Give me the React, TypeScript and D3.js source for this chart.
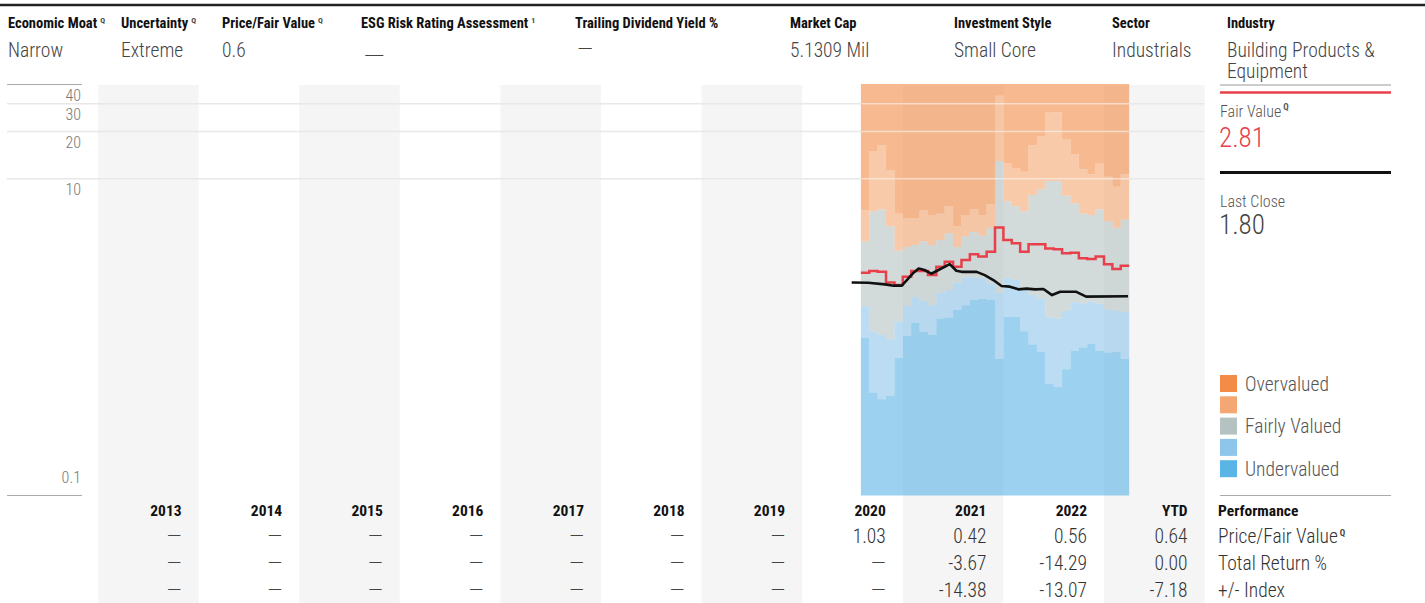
import React from 'react';
import * as d3 from 'd3';

const FONT = '"Roboto Condensed", "Liberation Sans Narrow", "DejaVu Sans Condensed", "Arial Narrow", Roboto, sans-serif';

// ---- header ----
const headerLabels = ['Economic Moat', 'Uncertainty', 'Price/Fair Value', 'ESG Risk Rating Assessment', 'Trailing Dividend Yield %', 'Market Cap', 'Investment Style', 'Sector', 'Industry'];
const headerMarks = ['Q', 'Q', 'Q', '1', '', '', '', '', ''];
const headerValues = ['Narrow', 'Extreme', '0.6', '—', '—', '5.1309 Mil', 'Small Core', 'Industrials', 'Building Products &|Equipment'];

// ---- axis ----
const years = ['2013', '2014', '2015', '2016', '2017', '2018', '2019', '2020', '2021', '2022', 'YTD'];
const yTicks = [40, 30, 20, 10, 0.1];

// ---- valuation bands (monthly, from Aug 2020) ----
const bandStartMonth = '2020-08';
const overvaluedEdge = [6.3, 14.9, 16.4, 11.4, 6.0, 5.6, 5.6, 6.3, 5.9, 6.0, 6.7, 5.0, 5.9, 6.4, 5.9, 6.9, 33.7, 12.6, 11.7, 11.1, 16.4, 18.5, 26.3, 26.5, 17.9, 14.4, 11.5, 10.7, 12.6, 10.3, 8.9, 10.7];
const fairHighEdge = [4.0, 6.2, 6.4, 5.0, 3.5, 3.7, 3.8, 4.0, 3.8, 4.1, 4.5, 3.7, 4.3, 4.6, 4.35, 4.9, 13.0, 7.2, 6.7, 6.2, 7.9, 8.6, 9.7, 9.7, 7.8, 7.0, 6.0, 5.9, 6.4, 5.4, 4.9, 5.5];
const fairLowEdge = [1.56, 1.07, 1.02, 0.96, 1.24, 1.56, 1.77, 1.68, 1.58, 1.89, 1.97, 2.2, 2.37, 2.37, 2.34, 2.17, 1.89, 2.36, 2.28, 1.99, 1.83, 1.75, 1.32, 1.3, 1.45, 1.65, 1.62, 1.66, 1.61, 1.49, 1.45, 1.43];
const undervaluedEdge = [0.98, 0.44, 0.4, 0.42, 0.73, 1.01, 1.22, 1.07, 1.02, 1.3, 1.32, 1.47, 1.58, 1.7, 1.73, 1.7, 0.72, 1.33, 1.33, 1.08, 0.89, 0.8, 0.5, 0.48, 0.62, 0.81, 0.85, 0.9, 0.81, 0.79, 0.8, 0.72];
const fairValue = [2.54, 2.6, 2.57, 2.2, 2.12, 2.39, 2.6, 2.6, 2.45, 2.77, 2.98, 2.77, 3.05, 3.32, 3.21, 3.45, 4.92, 4.09, 3.9, 3.45, 3.84, 3.84, 3.62, 3.57, 3.37, 3.4, 3.13, 3.1, 3.21, 2.87, 2.68, 2.81];

// ---- price ----
const priceDates = ['2020-06-28', '2020-08-28', '2020-10-28', '2020-11-28', '2020-12-28', '2021-01-16', '2021-02-09', '2021-02-26', '2021-03-19', '2021-04-13', '2021-06-19', '2021-07-13', '2021-08-01', '2021-09-25', '2021-10-25', '2021-11-25', '2021-12-25', '2022-01-25', '2022-02-23', '2022-03-25', '2022-04-25', '2022-05-25', '2022-06-25', '2022-07-25', '2022-09-22', '2022-10-28', '2023-03-28'];
const priceValues = [2.2, 2.19, 2.14, 2.1, 2.1, 2.28, 2.54, 2.7, 2.64, 2.5, 2.88, 2.61, 2.57, 2.57, 2.45, 2.28, 2.09, 2.07, 1.99, 2.01, 1.99, 2.0, 1.83, 1.92, 1.92, 1.79, 1.8];

// ---- table ----
const rowLabels = ['Price/Fair Value', 'Total Return %', '+/- Index'];
const rowMarks = ['Q', '', ''];
const priceFairRow = [null, null, null, null, null, null, null, '1.03', '0.42', '0.56', '0.64'];
const totalReturnRow = [null, null, null, null, null, null, null, null, '-3.67', '-14.29', '0.00'];
const indexRow = [null, null, null, null, null, null, null, null, '-14.38', '-13.07', '-7.18'];

// ---- legend ----
const legendLabels = ['Overvalued', '', 'Fairly Valued', '', 'Undervalued'];
const legendColors = ['#f28c46', '#f4a772', '#b4c2c1', '#8ec5ea', '#5ab4e5'];

const fairValueNow = '2.81';
const lastClose = '1.80';

const monthIndex = (s: string) => {
  const [y, m, d] = s.split('-').map(Number);
  const base = (y - 2013) * 12 + (m - 1);
  if (d === undefined) return base;
  const dim = new Date(y, m, 0).getDate();
  return base + (d - 1) / dim;
};

export default function App() {
  const W = 1425, H = 603;
  const left = 98, right = 1204.6;
  const top = 84, bottom = 494;
  const chartBottom = 495.5;

  const x = d3.scaleLinear().domain([0, years.length * 12]).range([left, right]);
  const xBand = d3.scaleBand<string>().domain(years).range([left, right]);
  const y = d3.scaleLog().domain([0.1, 40]).range([bottom, top]);

  const start = monthIndex(bandStartMonth);
  const n = fairValue.length;
  const months = d3.range(n + 1).map((i) => start + i);
  const ext = (arr: number[]) => [...arr, arr[arr.length - 1]];

  const layers = [
    { upper: ext(overvaluedEdge).map(() => 40), lower: ext(overvaluedEdge), color: legendColors[0] },
    { upper: ext(overvaluedEdge), lower: ext(fairHighEdge), color: legendColors[1] },
    { upper: ext(fairHighEdge), lower: ext(fairLowEdge), color: legendColors[2] },
    { upper: ext(fairLowEdge), lower: ext(undervaluedEdge), color: legendColors[3] },
    { upper: ext(undervaluedEdge), lower: null, color: legendColors[4] },
  ];

  const mkArea = (layer: any) =>
    d3
      .area<number>()
      .curve(d3.curveStepAfter)
      .x((_, i) => x(months[i]))
      .y1((_, i) => y(layer.upper[i]))
      .y0((_, i) => (layer.lower ? y(layer.lower[i]) : chartBottom))(months);

  const fvLine = d3
    .line<number>()
    .curve(d3.curveStepAfter)
    .x((_, i) => x(months[i]))
    .y((_, i) => y(ext(fairValue)[i]))(months);

  const priceLine = d3
    .line<number>()
    .x((d, i) => x(monthIndex(priceDates[i])))
    .y((d) => y(d))(priceValues);

  const headerX = [8, 121, 222, 361, 575, 790, 954, 1112, 1227];
  const tableRows = [priceFairRow, totalReturnRow, indexRow];
  const rowY = [543, 570, 597];
  const gridVals = [30, 20, 10];

  return (
    <svg width={W} height={H} style={{ position: 'absolute', left: 0, top: 0, fontFamily: FONT }}>
      <rect width={W} height={H} fill="#fff" />
      {/* top rule */}
      <line x1={0} x2={W} y1={5} y2={5} stroke="#222" strokeWidth={2.5} />

      {/* header */}
      {headerLabels.map((lab, i) => (
        <g key={lab}>
          <text x={headerX[i]} y={28} fontSize={14.5} fontWeight={700} fill="#111">
            {lab}
            {headerMarks[i] && (
              <tspan dx={3} dy={-5} fontSize={8} fontWeight={700} fill="#444">{headerMarks[i]}</tspan>
            )}
          </text>
          {headerValues[i] === '—' ? (
            <text x={headerX[i] + 2} y={i === 3 ? 63 : 56} fontSize={19.5} fontWeight={300} fill="#444"
              textLength={i === 3 ? 22 : 16} lengthAdjust="spacingAndGlyphs">—</text>
          ) : (
            headerValues[i].split('|').map((v, j) => (
              <text key={j} x={headerX[i]} y={57 + j * 21} fontSize={19.5} fontWeight={300} fill="#444">{v}</text>
            ))
          )}
        </g>
      ))}

      {/* alternating year columns */}
      {years.map((yr, i) =>
        i % 2 === 0 ? <rect key={yr} x={xBand(yr)} y={85} width={xBand.bandwidth()} height={H - 85} fill="#f5f5f5" /> : null
      )}

      {/* y axis */}
      <line x1={7} x2={82} y1={top + 0.5} y2={top + 0.5} stroke="#aaa" strokeWidth={1} />
      <line x1={7} x2={82} y1={chartBottom} y2={chartBottom} stroke="#aaa" strokeWidth={1} />
      {gridVals.map((v) => (
        <line key={v} x1={7} x2={right} y1={y(v)} y2={y(v)} stroke="#e8e8e8" strokeWidth={1.5} />
      ))}
      {yTicks.map((v) => (
        <text key={v} x={81} y={v === 0.1 ? y(v) - 11 : y(v) + 16.5} textAnchor="end" fontSize={16} fontWeight={300} fill="#777">
          {v}
        </text>
      ))}

      {/* valuation bands */}
      {layers.map((l, i) => (
        <path key={i} d={mkArea(l) || ''} fill={l.color} fillOpacity={0.6} />
      ))}
      {gridVals.map((v) => (
        <line key={'w' + v} x1={x(start)} x2={x(start + n)} y1={y(v)} y2={y(v)} stroke="#fff" strokeOpacity={0.55} strokeWidth={1.5} />
      ))}

      {/* fair value and price */}
      <path d={fvLine || ''} fill="none" stroke="#e8404a" strokeWidth={2.5} />
      <path d={priceLine || ''} fill="none" stroke="#111" strokeWidth={2.6} strokeLinejoin="round" />

      {/* table */}
      {years.map((yr) => (
        <text key={yr} x={(xBand(yr) as number) + xBand.bandwidth() - 17} y={516} textAnchor="end" fontSize={15.5} fontWeight={700} fill="#111">
          {yr}
        </text>
      ))}
      {tableRows.map((row, r) =>
        row.map((v, i) => {
          const cx = (xBand(years[i]) as number) + xBand.bandwidth() - 17;
          return v === null ? (
            <text key={r + '-' + i} x={cx - 15} y={rowY[r]} fontSize={19.5} fontWeight={300} fill="#444"
              textLength={15} lengthAdjust="spacingAndGlyphs">—</text>
          ) : (
            <text key={r + '-' + i} x={cx} y={rowY[r]} textAnchor="end" fontSize={19.5} fontWeight={300} fill="#333">{v}</text>
          );
        })
      )}

      {/* right panel */}
      <line x1={1220} x2={1391} y1={85} y2={85} stroke="#999" strokeWidth={1} />
      <line x1={1220} x2={1391} y1={92.5} y2={92.5} stroke="#e8404a" strokeWidth={2.5} />
      <text x={1220} y={117} fontSize={16} fontWeight={300} fill="#555">
        Fair Value
        <tspan dx={2} dy={-7} fontSize={9} fontWeight={700} fill="#555">Q</tspan>
      </text>
      <text x={1219} y={147} fontSize={27} fontWeight={300} fill="#e8404a">{fairValueNow}</text>
      <line x1={1220} x2={1391} y1={172.5} y2={172.5} stroke="#111" strokeWidth={3} />
      <text x={1220} y={207} fontSize={16} fontWeight={300} fill="#555">Last Close</text>
      <text x={1219} y={234} fontSize={27} fontWeight={300} fill="#444">{lastClose}</text>

      {legendLabels.map((lab, i) => (
        <g key={i}>
          <rect x={1220} y={375 + i * 21.3} width={17} height={17} fill={legendColors[i]} />
          {lab && (
            <text x={1245} y={375 + i * 21.3 + 15.5} fontSize={19.5} fontWeight={300} fill="#555">{lab}</text>
          )}
        </g>
      ))}
      <line x1={1220} x2={1391} y1={495.5} y2={495.5} stroke="#aaa" strokeWidth={1} />
      <text x={1218} y={516} fontSize={15.5} fontWeight={700} fill="#111">Performance</text>
      {rowLabels.map((lab, i) => (
        <text key={lab} x={1218} y={rowY[i]} fontSize={19.5} fontWeight={300} fill="#333">
          {lab}
          {rowMarks[i] && (
            <tspan dx={2} dy={-7} fontSize={9} fontWeight={700} fill="#444">{rowMarks[i]}</tspan>
          )}
        </text>
      ))}
    </svg>
  );
}
